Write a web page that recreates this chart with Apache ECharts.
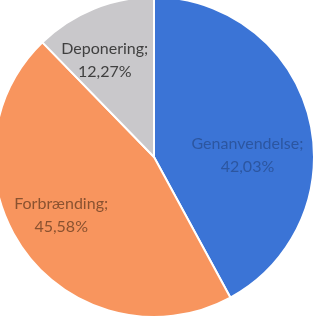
<!DOCTYPE html>
<html>
<head>
<meta charset="utf-8">
<script src="https://cdn.jsdelivr.net/npm/echarts@6/dist/echarts.min.js"></script>
<style>html,body{margin:0;padding:0;background:#fff;}#c{width:323px;height:324px;}</style>
</head>
<body>
<div id="c"></div>
<script>
var categories = ['Genanvendelse', 'Forbrænding', 'Deponering'];
var values = [42.03, 45.58, 12.27];
var labelTexts = ['42,03%', '45,58%', '12,27%'];
var colors = ['#3B74D6', '#F8955E', '#C9C8CB'];
var textColors = ['#2C56A0', '#8A5230', '#404040'];
var labelShift = [[13, 19], [-26, 9], [-18, -20]];

var chart = echarts.init(document.getElementById('c'));
chart.setOption({
  animation: false,
  series: [{
    type: 'pie',
    center: [154, 157],
    radius: 160,
    startAngle: 90,
    clockwise: true,
    avoidLabelOverlap: false,
    itemStyle: { borderColor: '#ffffff', borderWidth: 2 },
    label: {
      position: 'inside',
      fontFamily: 'Lato',
      fontSize: 16,
      lineHeight: 23,
      align: 'center'
    },
    labelLine: { show: false },
    labelLayout: function (p) {
      return { dx: labelShift[p.dataIndex][0], dy: labelShift[p.dataIndex][1] };
    },
    data: categories.map(function (c, i) {
      return {
        name: c,
        value: values[i],
        itemStyle: { color: colors[i] },
        label: { formatter: c + ';\n' + labelTexts[i], color: textColors[i] }
      };
    })
  }]
});
</script>
</body>
</html>
